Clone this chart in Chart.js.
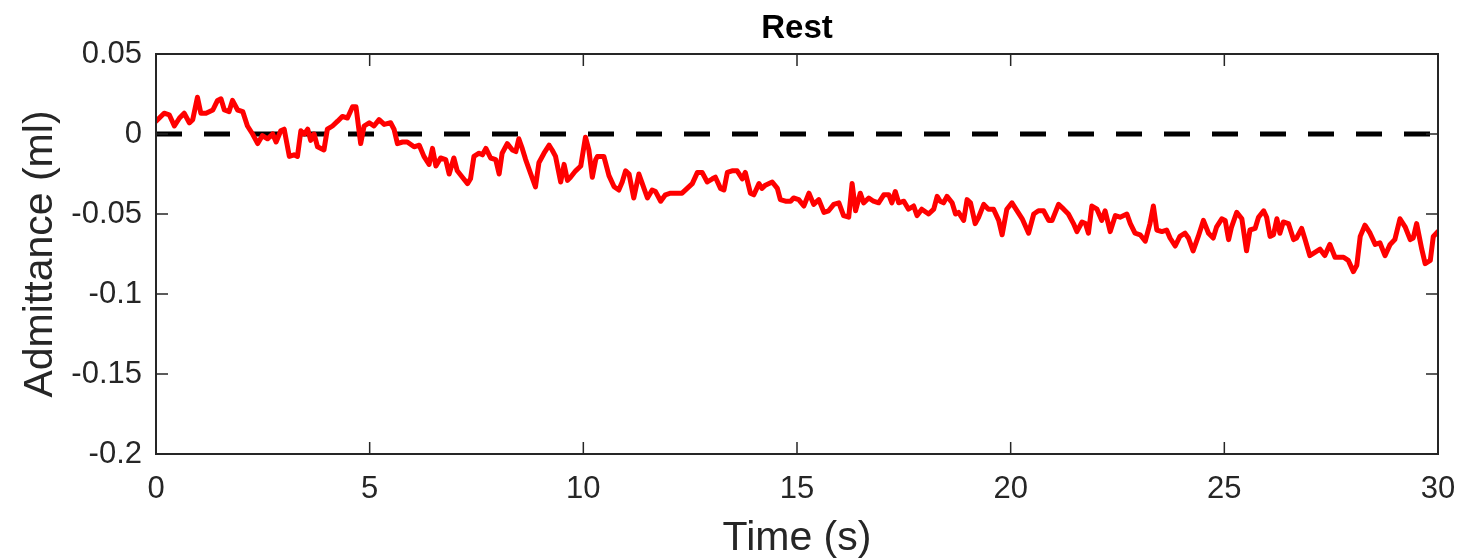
<!DOCTYPE html>
<html>
<head>
<meta charset="utf-8">
<script src="https://cdn.jsdelivr.net/npm/chart.js@4/dist/chart.umd.min.js"></script>
<style>
  html, body { margin: 0; padding: 0; background: #fff; }
  #wrap { width: 1464px; height: 559px; }
</style>
</head>
<body>
<div id="wrap"><canvas id="chart-rest"></canvas></div>
<script>
// time axis (s) and admittance (ml)
const timeSec = [
  0.00, 0.19, 0.31, 0.43, 0.55, 0.66, 0.78, 0.86, 0.97, 1.05, 1.17, 1.33, 1.44, 1.52, 1.60, 1.71, 1.79, 1.91, 2.03, 2.14,
  2.26, 2.38, 2.49, 2.61, 2.73, 2.81, 2.92, 3.00, 3.12, 3.23, 3.31, 3.39, 3.47, 3.55, 3.62, 3.70, 3.78, 3.93, 4.01, 4.13,
  4.25, 4.36, 4.48, 4.60, 4.68, 4.79, 4.87, 4.99, 5.10, 5.22, 5.34, 5.49, 5.57, 5.65, 5.77, 5.88, 6.04, 6.16, 6.27, 6.39,
  6.47, 6.55, 6.66, 6.78, 6.86, 6.97, 7.05, 7.17, 7.29, 7.36, 7.44, 7.56, 7.64, 7.72, 7.83, 7.95, 8.03, 8.10, 8.22, 8.34,
  8.42, 8.49, 8.57, 8.65, 8.77, 8.88, 8.96, 9.08, 9.20, 9.27, 9.35, 9.47, 9.55, 9.63, 9.70, 9.82, 9.94, 10.05, 10.13, 10.21,
  10.29, 10.33, 10.48, 10.60, 10.72, 10.83, 10.91, 10.99, 11.07, 11.18, 11.30, 11.38, 11.50, 11.61, 11.69, 11.81, 11.92, 12.04, 12.31, 12.43,
  12.55, 12.67, 12.78, 12.90, 13.02, 13.09, 13.21, 13.29, 13.37, 13.48, 13.60, 13.72, 13.79, 13.91, 13.99, 14.11, 14.18, 14.26, 14.42, 14.54,
  14.61, 14.73, 14.85, 14.92, 15.04, 15.16, 15.28, 15.39, 15.51, 15.63, 15.74, 15.86, 15.98, 16.09, 16.21, 16.29, 16.37, 16.48, 16.56, 16.68,
  16.79, 16.91, 17.03, 17.15, 17.22, 17.30, 17.38, 17.50, 17.61, 17.73, 17.81, 17.92, 18.08, 18.20, 18.28, 18.35, 18.43, 18.51, 18.63, 18.71,
  18.78, 18.90, 18.98, 19.06, 19.17, 19.25, 19.37, 19.48, 19.60, 19.72, 19.80, 19.91, 20.03, 20.15, 20.27, 20.42, 20.54, 20.65, 20.77, 20.89,
  20.97, 21.12, 21.24, 21.35, 21.47, 21.55, 21.67, 21.75, 21.82, 21.90, 22.02, 22.13, 22.21, 22.33, 22.45, 22.56, 22.72, 22.80, 22.91, 23.03,
  23.15, 23.26, 23.34, 23.42, 23.54, 23.65, 23.73, 23.85, 23.96, 24.08, 24.16, 24.27, 24.39, 24.51, 24.63, 24.74, 24.82, 24.94, 25.02, 25.10,
  25.17, 25.29, 25.41, 25.52, 25.60, 25.72, 25.80, 25.92, 25.99, 26.07, 26.15, 26.23, 26.30, 26.38, 26.50, 26.62, 26.69, 26.81, 26.89, 27.00,
  27.12, 27.24, 27.35, 27.47, 27.59, 27.79, 27.90, 28.02, 28.10, 28.18, 28.29, 28.41, 28.53, 28.64, 28.76, 28.88, 28.99, 29.11, 29.23, 29.35,
  29.42, 29.50, 29.62, 29.70, 29.82, 29.89, 30.00
];
const admittance = [
  0.008, 0.013, 0.012, 0.005, 0.010, 0.013, 0.007, 0.009, 0.023, 0.013, 0.013, 0.015, 0.021, 0.022, 0.015, 0.014, 0.021, 0.015, 0.014, 0.005,
  0.000, -0.006, -0.001, -0.003, 0.000, -0.005, 0.002, 0.003, -0.014, -0.013, -0.014, 0.002, 0.000, 0.003, -0.004, 0.000, -0.008, -0.010, 0.003, 0.005,
  0.008, 0.011, 0.010, 0.017, 0.017, -0.006, 0.005, 0.007, 0.005, 0.009, 0.006, 0.007, 0.003, -0.006, -0.005, -0.005, -0.008, -0.007, -0.014, -0.019,
  -0.009, -0.020, -0.015, -0.016, -0.025, -0.015, -0.023, -0.027, -0.031, -0.028, -0.014, -0.012, -0.013, -0.009, -0.015, -0.016, -0.025, -0.012, -0.006, -0.010,
  -0.011, -0.003, -0.009, -0.016, -0.025, -0.033, -0.018, -0.012, -0.007, -0.010, -0.014, -0.030, -0.019, -0.029, -0.027, -0.023, -0.020, -0.002, -0.010, -0.027,
  -0.016, -0.014, -0.014, -0.026, -0.033, -0.035, -0.030, -0.023, -0.025, -0.040, -0.025, -0.031, -0.040, -0.035, -0.036, -0.042, -0.038, -0.037, -0.037, -0.034,
  -0.031, -0.024, -0.024, -0.030, -0.028, -0.027, -0.034, -0.035, -0.024, -0.023, -0.023, -0.028, -0.024, -0.037, -0.038, -0.031, -0.034, -0.032, -0.030, -0.034,
  -0.041, -0.042, -0.042, -0.040, -0.041, -0.045, -0.037, -0.044, -0.041, -0.049, -0.048, -0.044, -0.043, -0.051, -0.052, -0.031, -0.048, -0.037, -0.043, -0.040,
  -0.042, -0.043, -0.038, -0.038, -0.043, -0.036, -0.043, -0.042, -0.047, -0.045, -0.051, -0.047, -0.050, -0.047, -0.039, -0.042, -0.043, -0.039, -0.043, -0.050,
  -0.049, -0.054, -0.041, -0.043, -0.056, -0.052, -0.044, -0.047, -0.047, -0.054, -0.063, -0.047, -0.043, -0.048, -0.053, -0.062, -0.050, -0.048, -0.048, -0.054,
  -0.054, -0.044, -0.047, -0.050, -0.056, -0.061, -0.055, -0.056, -0.062, -0.045, -0.047, -0.054, -0.048, -0.061, -0.051, -0.052, -0.050, -0.056, -0.062, -0.063,
  -0.067, -0.056, -0.045, -0.060, -0.061, -0.060, -0.065, -0.070, -0.064, -0.062, -0.065, -0.073, -0.064, -0.054, -0.062, -0.065, -0.058, -0.053, -0.054, -0.066,
  -0.058, -0.049, -0.053, -0.073, -0.060, -0.059, -0.052, -0.048, -0.052, -0.064, -0.063, -0.053, -0.062, -0.055, -0.056, -0.066, -0.065, -0.059, -0.066, -0.076,
  -0.074, -0.072, -0.076, -0.069, -0.077, -0.077, -0.079, -0.086, -0.082, -0.064, -0.057, -0.062, -0.069, -0.068, -0.076, -0.069, -0.066, -0.053, -0.058, -0.066,
  -0.065, -0.056, -0.072, -0.081, -0.079, -0.064, -0.061
];
// dashed zero reference
const refTime = [0, 30];
const refValue = [0, 0];

const xTickValues = [0, 5, 10, 15, 20, 25, 30];
const xTickLabels = ["0", "5", "10", "15", "20", "25", "30"];
const yTickValues = [0.05, 0, -0.05, -0.1, -0.15, -0.2];
const yTickLabels = ["0.05", "0", "-0.05", "-0.1", "-0.15", "-0.2"];

const chartTitle = "Rest";
const axisColor = "#262626";
const fontFamily = "'Liberation Sans', Arial, Helvetica, sans-serif";

// MATLAB-style box with inward tick marks, title centred over the axes
const boxPlugin = {
  id: "box",
  afterDraw(chart) {
    const { ctx, chartArea: a, scales } = chart;
    const len = 12;
    ctx.save();
    ctx.strokeStyle = axisColor;
    ctx.lineWidth = 2;
    ctx.strokeRect(a.left, a.top, a.right - a.left, a.bottom - a.top);
    ctx.lineWidth = 1.5;
    ctx.beginPath();
    xTickValues.forEach(v => {
      const px = scales.x.getPixelForValue(v);
      ctx.moveTo(px, a.bottom); ctx.lineTo(px, a.bottom - len);
      ctx.moveTo(px, a.top); ctx.lineTo(px, a.top + len);
    });
    yTickValues.forEach(v => {
      const py = scales.y.getPixelForValue(v);
      ctx.moveTo(a.left, py); ctx.lineTo(a.left + len, py);
      ctx.moveTo(a.right, py); ctx.lineTo(a.right - len, py);
    });
    ctx.stroke();

    ctx.fillStyle = "#000000";
    ctx.font = "bold 33px " + fontFamily;
    ctx.textAlign = "center";
    ctx.textBaseline = "middle";
    ctx.fillText(chartTitle, (a.left + a.right) / 2, a.top - 25);
    ctx.restore();
  }
};

const ctx = document.getElementById("chart-rest").getContext("2d");
new Chart(ctx, {
  type: "line",
  data: {
    datasets: [{
      label: "Admittance",
      data: timeSec.map((t, i) => ({ x: t, y: admittance[i] })),
      borderColor: "#ff0000",
      borderWidth: 5,
      borderJoinStyle: "round",
      borderCapStyle: "round",
      pointRadius: 0,
      tension: 0,
      order: 0
    }, {
      label: "Zero",
      data: refTime.map((t, i) => ({ x: t, y: refValue[i] })),
      borderColor: "#000000",
      borderWidth: 5,
      borderDash: [26, 22],
      pointRadius: 0,
      order: 1
    }]
  },
  options: {
    responsive: true,
    maintainAspectRatio: false,
    animation: false,
    layout: { padding: { top: 54, right: 26, bottom: 0, left: 0 } },
    plugins: {
      legend: { display: false },
      tooltip: { enabled: false },
      title: { display: false }
    },
    scales: {
      x: {
        type: "linear",
        min: 0,
        max: 30,
        afterBuildTicks: s => { s.ticks = xTickValues.map(v => ({ value: v })); },
        afterFit: s => { s.height = 105; s.paddingLeft = 0; s.paddingRight = 0; },
        ticks: {
          color: axisColor,
          padding: 17,
          maxRotation: 0,
          font: { family: fontFamily, size: 31 },
          callback: (v, i) => xTickLabels[i]
        },
        grid: { display: false, drawTicks: false },
        border: { display: false },
        title: {
          display: true,
          text: "Time (s)",
          color: axisColor,
          font: { family: fontFamily, size: 41, lineHeight: 1 },
          padding: { top: 0, bottom: 0 }
        }
      },
      y: {
        type: "linear",
        min: -0.2,
        max: 0.05,
        afterBuildTicks: s => { s.ticks = yTickValues.map(v => ({ value: v })); },
        afterFit: s => { s.width = 156; s.paddingTop = 0; s.paddingBottom = 0; },
        ticks: {
          color: axisColor,
          padding: 14,
          font: { family: fontFamily, size: 31 },
          callback: (v, i) => yTickLabels[i]
        },
        grid: { display: false, drawTicks: false },
        border: { display: false },
        title: {
          display: true,
          text: "Admittance (ml)",
          color: axisColor,
          font: { family: fontFamily, size: 41, lineHeight: 1 },
          padding: { top: 20, bottom: 0 }
        }
      }
    }
  },
  plugins: [boxPlugin]
});
</script>
</body>
</html>
